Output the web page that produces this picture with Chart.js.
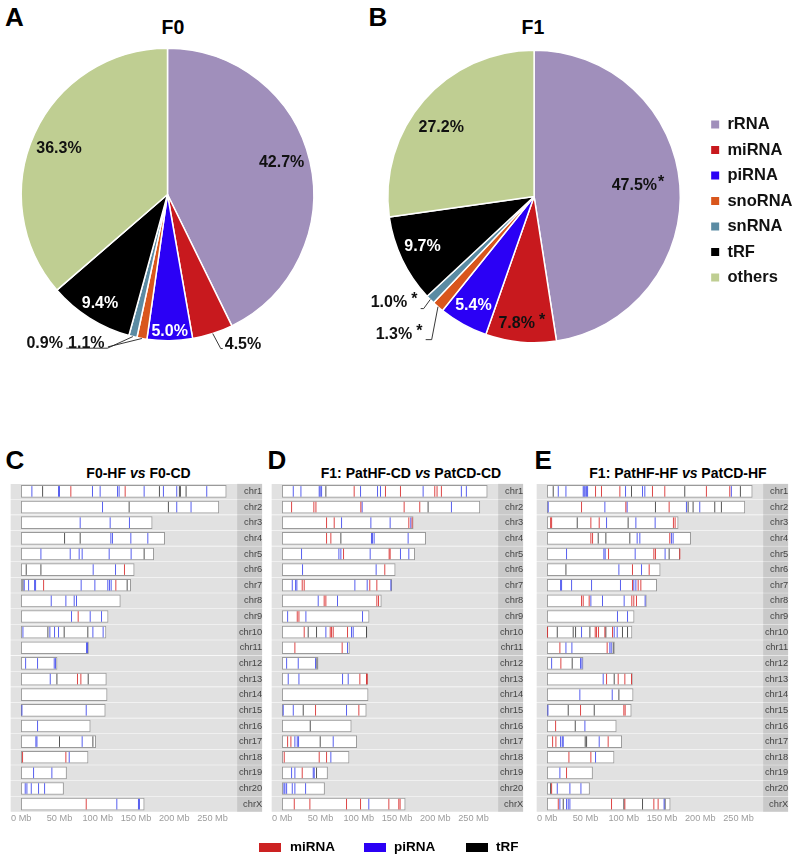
<!DOCTYPE html>
<html><head><meta charset="utf-8">
<title>Small RNA composition (F0, F1) and chromosomal distribution</title>
<script src="https://cdn.jsdelivr.net/npm/chart.js@4.4.1/dist/chart.umd.min.js"></script>
<style>
html,body{margin:0;padding:0;background:#fff}
body{width:795px;height:856px;position:relative;overflow:hidden;font-family:"Liberation Sans",Arial,Helvetica,sans-serif;color:#000}
.abs{position:absolute;white-space:nowrap}
.letter{font-weight:bold;font-size:26px;line-height:26px}
.ptitle{font-weight:bold;font-size:19.5px;line-height:20px;text-align:center;width:100px}
.ctitle{font-weight:bold;font-size:14px;line-height:14px;text-align:center;width:260px}
canvas{position:absolute}
.leg{font-weight:bold;font-size:13.5px;line-height:14px}
.sw{position:absolute;width:22px;height:9px}
</style></head>
<body>
<div class="abs letter" style="left:5px;top:3.6px">A</div>
<div class="abs letter" style="left:368.5px;top:3.6px">B</div>
<div class="abs ptitle" style="left:123px;top:16.5px">F0</div>
<div class="abs ptitle" style="left:483px;top:16.5px">F1</div>

<div class="abs letter" style="left:5.5px;top:447px">C</div>
<div class="abs letter" style="left:267.5px;top:447px">D</div>
<div class="abs letter" style="left:534.5px;top:447px">E</div>
<div class="abs ctitle" style="left:8.5px;top:466px">F0-HF <i>vs</i> F0-CD</div>
<div class="abs ctitle" style="left:281px;top:466px">F1: PatHF-CD <i>vs</i> PatCD-CD</div>
<div class="abs ctitle" style="left:548px;top:466px">F1: PatHF-HF <i>vs</i> PatCD-HF</div>

<canvas id="pieA" width="385" height="330" style="left:0;top:40px"></canvas>
<canvas id="pieB" width="450" height="330" style="left:360px;top:40px"></canvas>
<canvas id="chrC" width="268" height="355" style="left:0;top:476px"></canvas>
<canvas id="chrD" width="268" height="355" style="left:265px;top:476px"></canvas>
<canvas id="chrE" width="265" height="355" style="left:530px;top:476px"></canvas>

<div class="sw" style="left:259px;top:843px;background:#cc2222"></div>
<div class="abs leg" style="left:290px;top:840px">miRNA</div>
<div class="sw" style="left:364px;top:843px;background:#2b00f5"></div>
<div class="abs leg" style="left:394px;top:840px">piRNA</div>
<div class="sw" style="left:466px;top:843px;background:#000"></div>
<div class="abs leg" style="left:496px;top:840px">tRF</div>

<script>
// ---------------- DATA ----------------
const rnaClasses = ['rRNA', 'miRNA', 'piRNA', 'snoRNA', 'snRNA', 'tRF', 'others'];
const f0Percent = [42.7, 4.5, 5.0, 1.1, 0.9, 9.4, 36.3];
const f1Percent = [47.5, 7.8, 5.4, 1.3, 1.0, 9.7, 27.2];
const f1Significant = [true, true, false, true, true, false, false];

const chromosomes = ['chr1','chr2','chr3','chr4','chr5','chr6','chr7','chr8','chr9','chr10',
  'chr11','chr12','chr13','chr14','chr15','chr16','chr17','chr18','chr19','chr20','chrX'];
const chromosomeLengthsMb = [267.9, 258.2, 171.1, 187.4, 173.1, 147.6, 143.0, 129.5, 113.5, 110.7,
  87.8, 46.8, 111.2, 112.2, 109.8, 90.2, 97.3, 87.3, 59.2, 55.3, 160.7];
const mbTicks = [0, 50, 100, 150, 200, 250];

// Panel C : F0-HF vs F0-CD   (positions in Mb)
const C_miRNA = [['chr1',[64.8,135.8]],['chr6',[134.9]],['chr7',[29.2,123.6]],['chr9',[74.4]],
  ['chr13',[73.5,77.9]],['chr18',[1.7,58.3]],['chrX',[84.9]]];
const C_piRNA = [['chr1',[13.9,48.7,50.0,93.1,103.1,125.8,127.9,160.6,185.8,203.2,242.4]],
  ['chr2',[106.2,203.2,221.9]],['chr3',[77.0,116.2,141.4]],['chr4',[117.1,119.2,143.2,165.4]],
  ['chr5',[25.7,64.0,75.7,79.6,114.9,143.6]],['chr6',[94.0,123.2]],
  ['chr7',[3.9,9.6,17.4,18.7,78.3,96.2,113.1,115.3,117.5]],['chr8',[39.2,58.3,69.2,72.2]],
  ['chr9',[65.7,90.1,104.9]],['chr10',[2.2,37.4,43.5,48.7,93.6,107.0]],['chr11',[85.3,86.6]],
  ['chr12',[5.7,21.3,43.1,44.8]],['chr13',[37.9]],['chr15',[0.9,84.9]],['chr16',[21.3]],
  ['chr17',[19.1,20.5,79.6]],['chr18',[62.7]],['chr19',[16.1,40.0]],['chr20',[5.2,7.4,13.1,22.6,30.5]],
  ['chrX',[124.9,153.2,154.5]]];
const C_tRF = [['chr1',[27.9,180.6,206.7,208.0,215.4]],['chr2',[141.0,192.3]],['chr4',[56.6,77.0]],
  ['chr5',[160.6]],['chr6',[6.5,25.7]],['chr7',[2.2,138.4]],['chr10',[34.8,56.1,87.0]],
  ['chr13',[46.6,87.5]],['chr17',[50.0,93.6]]];

// Panel D : F1 PatHF-CD vs PatCD-CD
const D_miRNA = [['chr1',[94.0,134.9,154.5,199.3,202.3,208.0]],['chr2',[12.2,41.3,44.0,102.7,159.3,179.7]],
  ['chr3',[57.9,67.9,165.4,169.7]],['chr4',[57.9,63.5]],['chr5',[80.1,139.7,141.0]],['chr6',[134.0]],
  ['chr7',[26.1,28.7,114.4,123.6]],['chr8',[54.8,57.0,123.6,125.8]],['chr9',[19.6,21.8]],
  ['chr10',[28.7,62.7,64.4,66.6,85.3]],['chr11',[16.5,78.3]],['chr13',[101.4,110.1,111.0]],
  ['chr15',[43.5,100.1]],['chr17',[7.0,11.3]],['chr18',[2.6,48.3,57.9]],['chr19',[26.1]],
  ['chrX',[15.7,36.1,84.0,102.3,139.3,152.3,154.0]]];
const D_piRNA = [['chr1',[14.4,24.4,48.3,49.6,51.4,102.3,124.5,128.4,184.1,234.1,240.6]],['chr2',[104.4,221.1]],
  ['chr3',[77.5,115.8,141.0,168.0]],['chr4',[116.6,117.9,120.1,164.5]],['chr5',[25.2,74.0,76.6,114.9,154.5,165.4]],
  ['chr6',[26.5,122.7]],['chr7',[13.1,17.4,19.1,94.9,111.0,141.9]],['chr8',[47.0,72.2]],['chr9',[7.0,30.9,104.9]],
  ['chr10',[57.0,90.5,92.7]],['chr11',[85.3]],['chr12',[5.7,20.9,43.5]],['chr13',[7.8,21.8,78.8,86.2]],
  ['chr15',[1.3,14.4,84.0]],['chr17',[16.5,19.6,21.3,66.6]],['chr18',[63.5]],['chr19',[12.2,16.5,40.5,41.8]],
  ['chr20',[2.2,3.5,5.7,13.1,16.5,30.5]],['chrX',[113.1]]];
const D_tRF = [['chr1',[57.0]],['chr2',[190.6]],['chr4',[76.6]],['chr10',[33.9,44.8,110.1]],['chr12',[45.3]],
  ['chr15',[27.4]],['chr16',[36.6]],['chr17',[49.6]],['chr19',[44.8]]];

// Panel E : F1 PatHF-HF vs PatCD-HF
const E_miRNA = [['chr1',[63.1,70.9,94.9,137.5,153.6,208.0,238.5]],['chr2',[44.8,102.7,159.3]],
  ['chr3',[4.4,5.7,57.0,67.9,164.9,167.1]],['chr4',[57.0,59.2,160.1]],['chr5',[80.1,139.3,141.4,173.2]],
  ['chr6',[111.4,133.2]],['chr7',[111.4,118.8,122.3]],['chr8',[44.8,47.0,54.8,110.5,113.1,116.6]],
  ['chr10',[0.4,62.7,64.4,67.0,75.3,85.3]],['chr11',[16.5,78.3]],['chr12',[17.8]],['chr13',[77.5,92.7,101.4,110.1]],
  ['chr15',[43.5,100.1,101.8]],['chr16',[10.9]],['chr17',[7.0,11.3,79.6]],['chr18',[28.3,57.0]],['chr19',[25.2]],
  ['chr20',[5.7]],['chrX',[14.4,84.0,101.4,139.3,144.9]]];
const E_piRNA = [['chr1',[14.4,24.4,47.0,48.3,49.6,51.4,52.7,102.3,124.5,127.5,240.6]],['chr2',[1.3,75.3,104.4,181.9,199.3]],
  ['chr3',[77.5,115.8,141.0]],['chr4',[117.5,121.0,162.3,164.5]],['chr5',[25.2,74.0,75.7,114.9,154.0]],
  ['chr6',[93.6,123.2]],['chr7',[17.4,18.7,31.8,57.9,95.7,113.1,115.8]],['chr8',[57.0,72.2,100.5,127.9]],
  ['chr9',[91.8,104.9]],['chr10',[44.8,87.5,91.4]],['chr11',[24.4,32.2,81.8,83.6]],['chr12',[5.7,43.5,45.3]],
  ['chr13',[73.1]],['chr14',[42.6,84.9]],['chr15',[0.9]],['chr16',[49.2]],['chr17',[17.4,19.6,20.9,67.9]],
  ['chr18',[63.1]],['chr19',[16.5]],['chr20',[13.1,29.6,44.0]],['chrX',[16.5,25.2,27.4,29.6,152.7]]];
const E_tRF = [['chr1',[7.8,110.1,179.7,252.4]],['chr2',[141.4,184.1,190.6,218.9,227.6]],['chr3',[39.2,105.7]],
  ['chr4',[66.6,76.6,107.9]],['chr5',[159.3]],['chr6',[24.4]],['chr10',[13.1,33.9,37.0,55.7,76.6,98.3,104.9]],
  ['chr11',[86.2]],['chr12',[32.6]],['chr13',[87.5]],['chr14',[93.6]],['chr15',[27.4,61.4]],['chr16',[36.6]],
  ['chr17',[49.6,51.4]],['chr20',[4.4]],['chrX',[20.9,100.1,124.5,154.0]]];

// ---------------- STYLE ----------------
const FONT = "'Liberation Sans', Arial, Helvetica, sans-serif";
Chart.defaults.font.family = FONT;
const pieColors = ['#a08fbb', '#c8191e', '#2b00f5', '#d9561c', '#5b8ba3', '#000000', '#bfce92'];
const labelInk = ['#111', '#111', '#fff', '#111', '#111', '#fff', '#111'];
const DEG = Math.PI / 180;

// label placement: inside (f = fraction of radius, da = angle nudge) or outside with leader path
const placeA = [
  {f: 0.81, da: -2.5},
  {path: [[8, 15], [10, 15]], text: [12, 11.5], align: 'left'},
  {f: 0.935},
  {path: [[-34, 8.4]], text: [-37.3, 4.7], align: 'right'},
  {path: [[-25.4, 11.6], [-66.7, 11.6]], text: [-70, 6.6], align: 'right'},
  {f: 0.875, da: -0.4},
  {f: 0.806, da: -1.6}
];
const placeB = [
  {f: 0.69, da: -2, gap: 1},
  {f: 0.876, da: 2.6},
  {f: 0.856},
  {path: [[-6.3, 32.9], [-12.3, 32.9]], text: [-15.6, 27.9], align: 'right'},
  {path: [[-6.6, 9.1], [-9.6, 9.1]], text: [-12.9, 3.1], align: 'right'},
  {f: 0.836, da: 1.4},
  {f: 0.79, da: -4.5}
];

function drawPct(ctx, pct, star, x, y, align, color, gap) {
  ctx.fillStyle = color;
  const w = ctx.measureText(pct).width;
  const g = gap === undefined ? 4 : gap;
  const sw = star ? ctx.measureText('*').width + g : 0;
  const left = align === 'center' ? x - w / 2 : align === 'right' ? x - w - sw : x;
  ctx.textAlign = 'left';
  ctx.fillText(pct, left, y);
  if (star) ctx.fillText('*', left + w + g, y - 3);
}

const pieLabels = {
  id: 'pieLabels',
  afterDatasetsDraw(chart, _a, opts) {
    const ctx = chart.ctx;
    const meta = chart.getDatasetMeta(0);
    const values = chart.data.datasets[0].data;
    ctx.save();
    ctx.font = 'bold 16px ' + FONT;
    ctx.textBaseline = 'middle';
    meta.data.forEach((arc, i) => {
      const p = arc.getProps(['x', 'y', 'startAngle', 'endAngle', 'outerRadius'], true);
      const mid = (p.startAngle + p.endAngle) / 2;
      const pl = opts.placement[i];
      const pct = values[i].toFixed(1) + '%';
      const star = opts.stars ? opts.stars[i] : false;
      if (pl.f !== undefined) {
        const a = mid + (pl.da || 0) * DEG;
        drawPct(ctx, pct, star, p.x + Math.cos(a) * p.outerRadius * pl.f,
          p.y + Math.sin(a) * p.outerRadius * pl.f, 'center', labelInk[i], pl.gap);
      } else {
        const ex = p.x + Math.cos(mid) * p.outerRadius, ey = p.y + Math.sin(mid) * p.outerRadius;
        ctx.beginPath();
        ctx.moveTo(ex, ey);
        pl.path.forEach(([dx, dy]) => ctx.lineTo(ex + dx, ey + dy));
        ctx.strokeStyle = '#222';
        ctx.lineWidth = 0.9;
        ctx.stroke();
        drawPct(ctx, pct, star, ex + pl.text[0], ey + pl.text[1], pl.align, '#111', pl.gap);
      }
    });
    ctx.restore();
  }
};

function pieChart(id, values, placement, stars, withLegend, padding) {
  return new Chart(document.getElementById(id), {
    type: 'pie',
    data: {
      labels: rnaClasses,
      datasets: [{data: values, backgroundColor: pieColors, borderColor: '#ffffff', borderWidth: 1.5, hoverOffset: 0}]
    },
    options: {
      responsive: false, animation: false, devicePixelRatio: 1, events: [],
      layout: {padding},
      plugins: {
        tooltip: {enabled: false},
        pieLabels: {placement, stars},
        legend: {
          display: withLegend, position: 'right', align: 'center',
          title: {display: true, text: '', padding: 4, font: {size: 1, lineHeight: 1}},
          labels: {
            boxWidth: 8, boxHeight: 8, padding: 9, color: '#111',
            font: {size: 16.5, weight: 'bold', family: FONT},
            generateLabels: (chart) => chart.data.labels.map((text, i) => ({
              text, fillStyle: chart.data.datasets[0].backgroundColor[i], strokeStyle: 'rgba(0,0,0,0)',
              lineWidth: 0, hidden: false, index: i, fontColor: '#111'
            }))
          }
        }
      }
    },
    plugins: [pieLabels]
  });
}

pieChart('pieA', f0Percent, placeA, null, false, {left: 20.5, top: 7.5, right: 70.5, bottom: 28.5});
pieChart('pieB', f1Percent, placeB, f1Significant, true, {left: 6, top: 9.5, right: 7.5, bottom: 26.5});

// ---------------- CHROMOSOME PANELS ----------------
const X_MIN = -13.4, X_MAX = 282.6, BAND_END = 314.3;
const markColors = {miRNA: 'rgba(215,38,38,0.85)', piRNA: 'rgba(45,55,235,0.8)', tRF: 'rgba(55,55,55,0.85)'};

function toPoints(list) {
  return list.flatMap(([chr, pos]) => pos.map(mb => ({x: mb, y: chr})));
}
function markSet(label, list, color) {
  return {
    type: 'scatter', label, data: toPoints(list), order: 0,
    pointStyle: 'line', pointRotation: 90, pointRadius: 5.3, pointHoverRadius: 5.3,
    pointBorderColor: color, pointBorderWidth: 1, borderColor: color, showLine: false
  };
}

function ideogram(id, miR, piR, trf, padding) {
  return new Chart(document.getElementById(id), {
    type: 'bar',
    data: {
      labels: chromosomes,
      datasets: [
        markSet('miRNA', miR, markColors.miRNA),
        markSet('piRNA', piR, markColors.piRNA),
        markSet('tRF', trf, markColors.tRF),
        {label: 'chromosome', data: chromosomeLengthsMb.map(l => [0, l]), backgroundColor: '#ffffff',
          borderColor: '#9a9a9a', borderWidth: 1, borderSkipped: false, barThickness: 12, grouped: false, order: 1},
        {label: 'name', data: chromosomes.map(() => [X_MAX, BAND_END]), backgroundColor: '#c9c9c9',
          borderWidth: 0, barThickness: 14.4, grouped: false, order: 2, clip: false},
        {label: 'band', data: chromosomes.map(() => [X_MIN, BAND_END]), backgroundColor: '#e1e1e1',
          borderWidth: 0, barThickness: 14.4, grouped: false, order: 3, clip: false}
      ]
    },
    options: {
      indexAxis: 'y', responsive: false, animation: false, devicePixelRatio: 1, events: [],
      layout: {padding},
      plugins: {legend: {display: false}, tooltip: {enabled: false}},
      scales: {
        x: {
          type: 'linear', min: X_MIN, max: X_MAX,
          grid: {display: false, drawTicks: false}, border: {display: false},
          afterBuildTicks: (s) => { s.ticks = mbTicks.map(v => ({value: v})); },
          ticks: {callback: (v) => v + ' Mb', color: '#9c9c9c', padding: 1, autoSkip: false, maxRotation: 0,
            font: {family: FONT, size: 9.2}}
        },
        y: {
          type: 'category', position: 'right', offset: true, z: 1,
          grid: {display: false, drawTicks: false}, border: {display: false},
          afterFit: (s) => { s.width = 24.7; },
          ticks: {z: 1, padding: 0.8, crossAlign: 'far', color: '#444', font: {family: FONT, size: 9.3}}
        }
      }
    }
  });
}

ideogram('chrC', C_miRNA, C_piRNA, C_tRF, {left: 11, right: 5.8, top: 7.6, bottom: 6});
ideogram('chrD', D_miRNA, D_piRNA, D_tRF, {left: 7, right: 9.8, top: 7.6, bottom: 6});
ideogram('chrE', E_miRNA, E_piRNA, E_tRF, {left: 7, right: 6.8, top: 7.6, bottom: 6});
</script>
</body></html>
